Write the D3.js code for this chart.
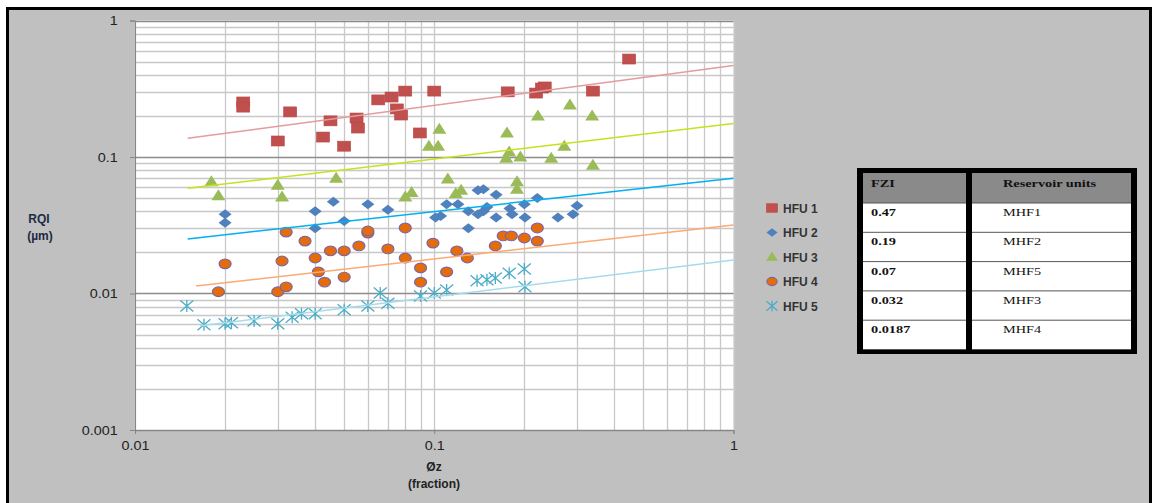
<!DOCTYPE html>
<html>
<head>
<meta charset="utf-8">
<script src="https://cdn.jsdelivr.net/npm/d3@7"></script>
<style>
  body { margin: 0; background: #fff; }
  svg { display: block; }
</style>
</head>
<body>
<script>
// values: [phi_z, RQI]
const hfu1 = [[0.023,0.253],[0.023,0.232],[0.030,0.131],[0.033,0.214],[0.0425,0.140],[0.045,0.184],
  [0.050,0.120],[0.055,0.193],[0.0556,0.163],[0.065,0.262],[0.072,0.275],[0.075,0.225],[0.0775,0.203],
  [0.080,0.304],[0.0895,0.150],[0.100,0.304],[0.176,0.300],[0.219,0.294],[0.229,0.320],[0.234,0.326],
  [0.339,0.304],[0.448,0.522]];
const hfu2 = [[0.020,0.038],[0.020,0.033],[0.040,0.040],[0.040,0.030],[0.046,0.047],[0.050,0.034],
  [0.060,0.045],[0.070,0.041],[0.101,0.036],[0.105,0.037],[0.110,0.045],[0.120,0.045],[0.130,0.040],
  [0.130,0.030],[0.140,0.057],[0.146,0.058],[0.161,0.053],[0.140,0.038],[0.146,0.040],[0.150,0.043],
  [0.161,0.036],[0.179,0.042],[0.182,0.038],[0.200,0.045],[0.201,0.036],[0.221,0.050],[0.259,0.036],
  [0.291,0.038],[0.300,0.044]];
const hfu3 = [[0.018,0.066],[0.019,0.052],[0.030,0.062],[0.031,0.051],[0.047,0.070],[0.080,0.051],
  [0.084,0.055],[0.096,0.120],[0.103,0.120],[0.104,0.160],[0.111,0.069],[0.118,0.054],[0.123,0.057],
  [0.175,0.150],[0.174,0.098],[0.178,0.109],[0.194,0.100],[0.189,0.066],[0.189,0.058],[0.222,0.200],
  [0.246,0.098],[0.272,0.120],[0.284,0.240],[0.337,0.200],[0.339,0.087]];
const hfu4 = [[0.019,0.0103],[0.020,0.0165],[0.030,0.0103],[0.031,0.0173],[0.032,0.0282],[0.032,0.0112],
  [0.037,0.0242],[0.040,0.0182],[0.041,0.0144],[0.043,0.0121],[0.045,0.0205],[0.050,0.0205],
  [0.050,0.0132],[0.056,0.0223],[0.060,0.0277],[0.060,0.0287],[0.070,0.0212],[0.080,0.0302],
  [0.080,0.0182],[0.090,0.0154],[0.090,0.0121],[0.099,0.0234],[0.110,0.0144],[0.119,0.0205],
  [0.129,0.0182],[0.160,0.0223],[0.170,0.0264],[0.181,0.0264],[0.200,0.0255],[0.221,0.0302],
  [0.221,0.0242]];
const hfu5 = [[0.0149,0.0081],[0.017,0.0059],[0.020,0.0060],[0.021,0.0061],[0.025,0.0063],[0.030,0.0060],
  [0.0335,0.0067],[0.036,0.0071],[0.040,0.0071],[0.050,0.0076],[0.060,0.0081],[0.066,0.0101],
  [0.070,0.0085],[0.090,0.0096],[0.100,0.0101],[0.110,0.0106],[0.139,0.0124],[0.150,0.0126],
  [0.160,0.0130],[0.178,0.0141],[0.200,0.0151],[0.201,0.0112]];

// trendline end points (power trend, straight on log-log)
const trend1 = [[0.015,0.137],[1,0.468]];
const trend2 = [[0.015,0.0251],[1,0.0698]];
const trend3 = [[0.015,0.059],[1,0.176]];
const trend4 = [[0.016,0.01135],[1,0.0318]];
const trend5 = [[0.0165,0.0058],[1,0.0176]];

const seriesNames = ["HFU 1","HFU 2","HFU 3","HFU 4","HFU 5"];
const xTickLabels = ["0.01","0.1","1"];
const yTickLabels = ["0.001","0.01","0.1","1"];

const fziValues = ["0.47","0.19","0.07","0.032","0.0187"];
const unitNames = ["MHF1","MHF2","MHF5","MHF3","MHF4"];

const series = [
  { name: seriesNames[0], data: hfu1, trend: trend1, shape: "square",   fill: "#c0504d", line: "#e39c9c" },
  { name: seriesNames[1], data: hfu2, trend: trend2, shape: "diamond",  fill: "#4f81bd", line: "#00b0f0" },
  { name: seriesNames[2], data: hfu3, trend: trend3, shape: "triangle", fill: "#9bbb59", line: "#c4e31c" },
  { name: seriesNames[3], data: hfu4, trend: trend4, shape: "circle",   fill: "#e46c0a", line: "#fbaa74" },
  { name: seriesNames[4], data: hfu5, trend: trend5, shape: "star",     fill: "#4bacc6", line: "#a5dcec" }
];

const W = 1156, H = 503;
const svg = d3.select("body").append("svg").attr("width", W).attr("height", H);

// chart area
svg.append("rect").attr("x", 7.5).attr("y", 8.5).attr("width", 1143).attr("height", 500)
  .attr("fill", "#c0c0c0").attr("stroke", "#000").attr("stroke-width", 3);

const x = d3.scaleLog().domain([0.01, 1]).range([135, 733.5]);
const y = d3.scaleLog().domain([0.001, 1]).range([430, 20.5]);

// plot area
svg.append("rect").attr("x", 135).attr("y", 20.5).attr("width", 598.5).attr("height", 409.5).attr("fill", "#fff");

const grid = svg.append("g");
grid.selectAll(".vg").data(x.ticks()).enter().append("line")
  .attr("x1", d => Math.round(x(d)) + 0.5).attr("x2", d => Math.round(x(d)) + 0.5)
  .attr("y1", y(1)).attr("y2", y(0.001))
  .attr("stroke", "#c8c8c8").attr("stroke-width", 1.3);
grid.selectAll(".hg").data(y.ticks()).enter().append("line")
  .attr("x1", x(0.01)).attr("x2", x(1))
  .attr("y1", d => Math.round(y(d)) + 0.5).attr("y2", d => Math.round(y(d)) + 0.5)
  .attr("stroke", d => (Math.abs(Math.log10(d) - Math.round(Math.log10(d))) < 1e-6 ? "#8c8c8c" : "#c8c8c8"))
  .attr("stroke-width", 1.3);

// axes
const xAxis = svg.append("g").attr("transform", `translate(0,${y(0.001)})`)
  .call(d3.axisBottom(x).tickValues(xTickLabels.map(Number)).tickFormat((d, i) => xTickLabels[i]).tickSize(4).tickPadding(7));
const yAxis = svg.append("g").attr("transform", `translate(${x(0.01)},0)`)
  .call(d3.axisLeft(y).tickValues(yTickLabels.map(Number)).tickFormat((d, i) => yTickLabels[i]).tickSize(5).tickPadding(10));
[xAxis, yAxis].forEach(a => {
  a.select(".domain").attr("stroke", "#868686");
  a.selectAll(".tick line").attr("stroke", "#868686");
  a.selectAll("text").attr("fill", "#222").style("font-family", "'Liberation Sans', Arial, sans-serif")
    .style("font-size", "12.5px").attr("transform", "scale(1.15,1)");
});

// axis titles
const titleFont = "'Liberation Sans', Arial, sans-serif";
svg.append("text").attr("x", 434).attr("y", 471).attr("text-anchor", "middle")
  .style("font", `bold 12px ${titleFont}`).attr("fill", "#222").text("Øz");
svg.append("text").attr("x", 434).attr("y", 488).attr("text-anchor", "middle")
  .style("font", `bold 12px ${titleFont}`).attr("fill", "#222").text("(fraction)");
svg.append("text").attr("x", 39).attr("y", 223).attr("text-anchor", "middle")
  .style("font", `bold 12px ${titleFont}`).attr("fill", "#1c2a44").text("RQI");
svg.append("text").attr("x", 40).attr("y", 240).attr("text-anchor", "middle")
  .style("font", `bold 12px ${titleFont}`).attr("fill", "#1c2a44").text("(µm)");

// marker drawing
function marker(g, s, k) {
  if (s.shape === "square") {
    g.append("rect").attr("x", -6.5 * k).attr("y", -5 * k).attr("width", 13 * k).attr("height", 10 * k)
      .attr("fill", s.fill).attr("stroke", "#b8474a").attr("stroke-width", 0.6);
  } else if (s.shape === "diamond") {
    g.append("path").attr("d", `M0,${-5 * k}L${6.5 * k},0L0,${5 * k}L${-6.5 * k},0Z`).attr("fill", s.fill);
  } else if (s.shape === "triangle") {
    g.append("path").attr("d", `M0,${-6.5 * k}L${7 * k},${4.5 * k}L${-7 * k},${4.5 * k}Z`).attr("fill", s.fill);
  } else if (s.shape === "circle") {
    g.append("ellipse").attr("rx", 6 * k).attr("ry", 4.8 * k)
      .attr("fill", s.fill).attr("stroke", "#8064a2").attr("stroke-width", 1.2);
  } else {
    const a = 6.5 * k, b = 5.5 * k;
    g.append("path").attr("d", `M${-a},${-b}L${a},${b}M${-a},${b}L${a},${-b}M0,${-b - 0.5}L0,${b + 0.5}`)
      .attr("stroke", s.fill).attr("stroke-width", 1.3).attr("fill", "none");
  }
}

// points, series 1 first
series.forEach(s => {
  const g = svg.append("g");
  s.data.forEach(d => {
    marker(g.append("g").attr("transform", `translate(${x(d[0])},${y(d[1])})`), s, 1);
  });
});

// trendlines on top
series.forEach(s => {
  svg.append("line")
    .attr("x1", x(s.trend[0][0])).attr("y1", y(s.trend[0][1]))
    .attr("x2", x(s.trend[1][0])).attr("y2", y(s.trend[1][1]))
    .attr("stroke", s.line).attr("stroke-width", 1.5);
});

// legend
const legend = svg.append("g").attr("transform", "translate(772,208)");
series.forEach((s, i) => {
  const row = legend.append("g").attr("transform", `translate(0,${i * 24.5})`);
  marker(row.append("g"), s, 0.85);
  row.append("text").attr("x", 11).attr("y", 4.5)
    .style("font", `bold 12px ${titleFont}`).attr("fill", "#333").text(s.name);
});

// FZI table
const tb = svg.append("g");
const serif = "'Liberation Serif', 'Times New Roman', serif";
tb.append("rect").attr("x", 857).attr("y", 168).attr("width", 280).attr("height", 186).attr("fill", "#000");
const colX = [863, 972], colW = [103, 159];
const rowY0 = 203, rowH = 29.3;
colX.forEach((cx, c) => {
  tb.append("rect").attr("x", cx).attr("y", 173).attr("width", colW[c]).attr("height", 30).attr("fill", "#8a8a8a");
  tb.append("rect").attr("x", cx).attr("y", rowY0).attr("width", colW[c]).attr("height", 146).attr("fill", "#fff");
  d3.range(fziValues.length + 1).forEach(r => {
    tb.append("line").attr("x1", cx).attr("x2", cx + colW[c])
      .attr("y1", rowY0 + r * rowH).attr("y2", rowY0 + r * rowH)
      .attr("stroke", "#555").attr("stroke-width", 1);
  });
});
function cell(tx, ty, str, bold) {
  tb.append("text").attr("transform", `translate(${tx},${ty}) scale(1.3,1)`)
    .style("font", `${bold ? "bold " : ""}11px ${serif}`).attr("fill", "#111").text(str);
}
cell(871, 187, "FZI", true);
cell(1003, 187, "Reservoir units", true);
fziValues.forEach((v, i) => {
  cell(871, rowY0 + i * rowH + 13, v, true);
  cell(1003, rowY0 + i * rowH + 13, unitNames[i], false);
});
</script>
</body>
</html>
